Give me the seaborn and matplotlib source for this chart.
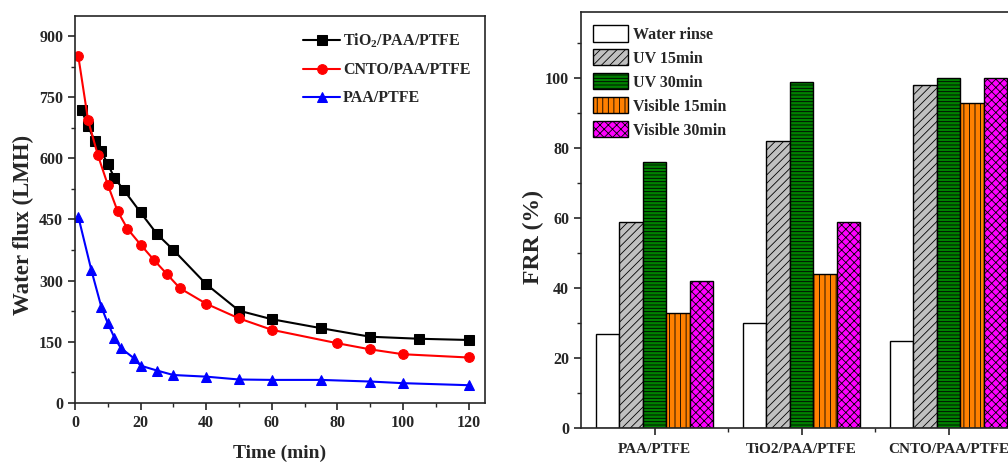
import numpy as np
import pandas as pd
import matplotlib
matplotlib.use("Agg")
import matplotlib.pyplot as plt
import matplotlib.patches as mpatches
from matplotlib.ticker import MultipleLocator
import seaborn as sns

# ---- data: water flux over time ----
t_tio2 = [2, 4, 6, 8, 10, 12, 15, 20, 25, 30, 40, 50, 60, 75, 90, 105, 120]
flux_tio2 = [718, 679, 642, 617, 586, 552, 521, 467, 414, 375, 291, 226, 205, 183, 162, 157, 154]

t_cnto = [1, 4, 7, 10, 13, 16, 20, 24, 28, 32, 40, 50, 60, 80, 90, 100, 120]
flux_cnto = [851, 693, 607, 535, 470, 427, 388, 351, 316, 281, 243, 207, 179, 146, 131, 119, 111]

t_paa = [1, 5, 8, 10, 12, 14, 18, 20, 25, 30, 40, 50, 60, 75, 90, 100, 120]
flux_paa = [457, 325, 236, 195, 160, 134, 109, 91, 79, 68, 64, 57, 56, 56, 52, 48, 43]

# ---- data: FRR bars ----
membranes = ["PAA/PTFE", "TiO2/PAA/PTFE", "CNTO/PAA/PTFE"]
treatments = ["Water rinse", "UV 15min", "UV 30min", "Visible 15min", "Visible 30min"]
frr_water = [27, 30, 25]
frr_uv15 = [59, 82, 98]
frr_uv30 = [76, 99, 100]
frr_vis15 = [33, 44, 93]
frr_vis30 = [42, 59, 100]

sns.set_style("ticks")
plt.rcParams["font.family"] = ["Liberation Serif", "DejaVu Serif"]
plt.rcParams["font.weight"] = "bold"
plt.rcParams["mathtext.fontset"] = "custom"
plt.rcParams["mathtext.rm"] = "Liberation Serif:bold"
plt.rcParams["mathtext.it"] = "Liberation Serif:bold"
plt.rcParams["mathtext.bf"] = "Liberation Serif:bold"
plt.rcParams["hatch.linewidth"] = 0.6

fig = plt.figure(figsize=(10.08, 4.66), dpi=100)
ax1 = fig.add_axes([0.0744, 0.1358, 0.4067, 0.8305])
ax2 = fig.add_axes([0.5764, 0.0815, 0.4375, 0.8927])

# ---- left: flux lines ----
series = [
    ("TiO$_2$/PAA/PTFE", t_tio2, flux_tio2, "black", "s"),
    ("CNTO/PAA/PTFE", t_cnto, flux_cnto, "red", "o"),
    ("PAA/PTFE", t_paa, flux_paa, "blue", "^"),
]
for name, t, f, c, m in series:
    d = pd.DataFrame({"Time": t, "Flux": f})
    sns.lineplot(data=d, x="Time", y="Flux", ax=ax1, color=c, marker=m,
                 markersize=7, markeredgecolor=c, linewidth=1.5, label=name)

ax1.set_xlim(0, 125)
ax1.set_ylim(0, 950)
ax1.xaxis.set_major_locator(MultipleLocator(20))
ax1.xaxis.set_minor_locator(MultipleLocator(10))
ax1.yaxis.set_major_locator(MultipleLocator(150))
ax1.yaxis.set_minor_locator(MultipleLocator(75))
ax1.set_xlabel("Time (min)", fontsize=14, fontweight="bold", labelpad=10)
ax1.set_ylabel("Water flux (LMH)", fontsize=16.5, fontweight="bold")
ax1.yaxis.set_label_coords(-0.10, 0.46)
ax1.legend(loc="upper right", bbox_to_anchor=(1.0, 0.995), frameon=False,
           fontsize=11.5, handlelength=2.3, handletextpad=0.2, labelspacing=0.75)

# ---- right: FRR bars ----
rows = []
for vals, tr in zip([frr_water, frr_uv15, frr_uv30, frr_vis15, frr_vis30], treatments):
    for mem, v in zip(membranes, vals):
        rows.append({"Membrane": mem, "Treatment": tr, "FRR": v})
df_bar = pd.DataFrame(rows)

colors = ["white", "#c0c0c0", "#008000", "#ff8000", "#ff00ff"]
hatches = ["", "////", "-----", "|||", "xxxx"]

sns.barplot(data=df_bar, x="Membrane", y="FRR", hue="Treatment", order=membranes,
            hue_order=treatments, palette=colors, saturation=1, width=0.8,
            edgecolor="black", linewidth=1, legend=False, ax=ax2)
for cont, h in zip(ax2.containers, hatches):
    for bar in cont:
        bar.set_hatch(h)

handles = [mpatches.Patch(facecolor=c, edgecolor="black", hatch=h, label=l)
           for c, h, l in zip(colors, hatches, treatments)]
ax2.legend(handles=handles, loc="upper left", bbox_to_anchor=(-0.005, 1.003), frameon=False,
           fontsize=11.5, handlelength=2.2, handleheight=1.2, handletextpad=0.3,
           labelspacing=0.4)

ax2.set_xlim(-0.5, 2.5)
ax2.set_ylim(0, 119)
ax2.yaxis.set_major_locator(MultipleLocator(20))
ax2.yaxis.set_minor_locator(MultipleLocator(10))
ax2.set_xticks([0.5, 1.5], minor=True)
ax2.set_xlabel("")
ax2.set_ylabel("FRR (%)", fontsize=17, fontweight="bold")
ax2.yaxis.set_label_coords(-0.084, 0.46)

for ax in (ax1, ax2):
    for s in ax.spines.values():
        s.set_linewidth(1.2)
        s.set_visible(True)
    ax.tick_params(which="major", direction="out", length=5, width=1.2, labelsize=11.5)
    ax.tick_params(which="minor", direction="out", length=3, width=1.0)
    for lab in ax.get_xticklabels() + ax.get_yticklabels():
        lab.set_fontweight("bold")
ax2.tick_params(axis="x", which="major", pad=6, labelsize=11)

fig.savefig("out.png", dpi=100)
